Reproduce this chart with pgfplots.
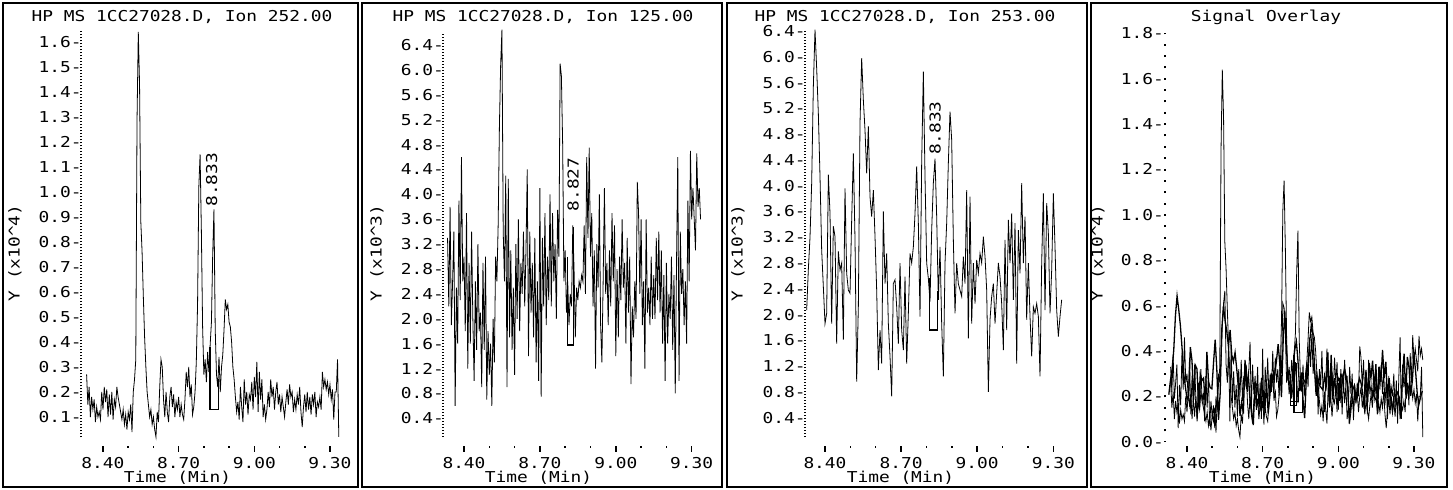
\documentclass[border=0pt]{standalone}
\usepackage{fontspec}
\setmainfont{DejaVu Sans Mono}[FakeStretch=1.19]
\usepackage{pgfplots}
\pgfplotsset{compat=1.18}
\usepackage{pgfplotstable}

% Ion 252 (x10^4), scan grid 8.335 + 0.005 i
\pgfplotstableread[row sep=\\]{
y\\
0.27\\0.15\\0.22\\0.10\\0.18\\0.13\\0.17\\0.08\\0.14\\0.10\\
0.12\\0.09\\0.20\\0.13\\0.22\\0.16\\0.21\\0.10\\0.19\\0.11\\
0.20\\0.09\\0.17\\0.14\\0.22\\0.18\\0.15\\0.12\\0.09\\0.13\\
0.07\\0.11\\0.05\\0.12\\0.09\\0.15\\0.04\\0.20\\0.25\\0.33\\
1.29\\1.64\\1.43\\0.88\\0.76\\0.58\\0.42\\0.30\\0.20\\0.15\\
0.10\\0.13\\0.07\\0.10\\0.05\\0.02\\0.12\\0.08\\0.22\\0.33\\
0.30\\0.17\\0.10\\0.20\\0.12\\0.08\\0.18\\0.22\\0.14\\0.19\\
0.10\\0.16\\0.13\\0.18\\0.10\\0.15\\0.11\\0.09\\0.17\\0.28\\
0.22\\0.30\\0.18\\0.23\\0.11\\0.14\\0.20\\0.32\\0.55\\1.02\\
1.15\\0.85\\0.46\\0.27\\0.33\\0.24\\0.36\\0.28\\0.39\\0.48\\
0.75\\0.93\\0.45\\0.27\\0.22\\0.34\\0.20\\0.30\\0.35\\0.45\\
0.57\\0.53\\0.55\\0.48\\0.46\\0.40\\0.30\\0.25\\0.18\\0.12\\
0.16\\0.09\\0.22\\0.14\\0.08\\0.25\\0.15\\0.20\\0.11\\0.19\\
0.17\\0.24\\0.13\\0.26\\0.18\\0.32\\0.12\\0.28\\0.17\\0.25\\
0.10\\0.15\\0.09\\0.13\\0.20\\0.14\\0.25\\0.18\\0.22\\0.13\\
0.20\\0.24\\0.15\\0.19\\0.12\\0.18\\0.14\\0.10\\0.16\\0.21\\
0.15\\0.23\\0.18\\0.20\\0.12\\0.17\\0.13\\0.19\\0.15\\0.22\\
0.12\\0.06\\0.14\\0.19\\0.12\\0.20\\0.13\\0.18\\0.11\\0.19\\
0.15\\0.20\\0.10\\0.16\\0.14\\0.18\\0.13\\0.28\\0.22\\0.25\\
0.21\\0.24\\0.19\\0.23\\0.17\\0.21\\0.09\\0.20\\0.20\\0.33\\
0.02\\
}\ionA

% Ion 125 (x10^3), scan grid 8.335 + 0.005 i
\pgfplotstableread[row sep=\\]{
y\\
3.3\\2.2\\3.8\\1.9\\2.6\\3.4\\0.6\\2.5\\1.6\\3.9\\
2.3\\4.6\\2.6\\3.0\\1.8\\3.7\\1.2\\2.9\\1.6\\3.4\\
2.0\\1.0\\2.6\\1.5\\3.2\\1.8\\2.1\\0.9\\2.9\\1.5\\
3.0\\0.7\\1.8\\1.1\\1.6\\0.6\\2.0\\1.3\\3.0\\2.6\\
3.5\\5.1\\6.1\\6.65\\3.4\\2.6\\4.3\\0.9\\4.25\\1.7\\
3.1\\1.5\\2.5\\1.1\\3.2\\2.0\\3.6\\1.8\\2.9\\2.4\\
3.4\\2.2\\3.1\\4.4\\1.4\\3.4\\2.1\\2.9\\1.7\\3.3\\
1.3\\2.6\\1.0\\4.1\\0.75\\3.3\\2.2\\3.7\\1.9\\3.0\\
2.3\\4.0\\2.2\\3.7\\2.6\\3.2\\2.0\\3.75\\3.0\\6.1\\
5.9\\4.8\\2.6\\3.1\\2.1\\2.6\\1.9\\2.4\\2.2\\3.5\\
2.8\\1.7\\2.5\\2.3\\2.6\\2.5\\2.7\\2.6\\3.5\\2.4\\
4.6\\3.3\\4.75\\3.0\\3.7\\2.2\\3.1\\1.2\\3.2\\2.5\\
4.0\\1.9\\1.3\\2.6\\4.1\\2.4\\2.9\\1.9\\3.1\\2.2\\
3.7\\2.6\\3.5\\1.4\\2.8\\1.7\\3.0\\2.3\\3.6\\2.5\\
2.9\\1.6\\3.3\\2.1\\3.0\\0.95\\2.2\\1.7\\2.6\\2.0\\
4.2\\3.7\\2.4\\3.6\\1.9\\2.6\\1.2\\3.6\\2.1\\2.5\\
1.9\\3.0\\2.0\\2.7\\2.0\\3.3\\2.3\\3.4\\2.1\\3.1\\
1.6\\2.7\\1.0\\2.9\\1.6\\2.4\\2.0\\3.0\\1.5\\2.7\\
0.8\\2.9\\4.6\\1.0\\3.4\\2.4\\2.8\\1.9\\2.6\\1.6\\
3.9\\2.6\\4.7\\3.6\\4.1\\3.6\\3.1\\4.66\\3.8\\4.1\\
3.6\\
}\ionB

% Ion 253 (x10^3), scan grid 8.3278 + 0.00657 k
\pgfplotstableread[row sep=\\]{
y\\
2.07\\2.70\\3.20\\4.04\\5.54\\6.42\\5.82\\5.12\\4.14\\3.00\\
2.43\\1.86\\2.02\\4.17\\3.57\\1.86\\3.37\\3.21\\1.55\\2.98\\
2.69\\2.80\\1.61\\3.96\\2.64\\2.38\\2.33\\3.47\\4.50\\3.16\\
0.96\\2.12\\4.97\\5.98\\5.33\\4.86\\4.19\\4.92\\3.83\\3.52\\
3.93\\3.21\\2.38\\1.14\\1.76\\1.24\\3.60\\2.48\\2.95\\1.86\\
1.35\\0.73\\2.48\\2.54\\2.12\\1.55\\2.80\\1.76\\1.45\\2.59\\
1.24\\2.02\\2.95\\2.80\\3.05\\3.57\\4.30\\3.42\\1.97\\4.37\\
5.77\\4.14\\2.80\\2.56\\2.20\\3.31\\4.04\\4.42\\3.52\\2.23\\
3.05\\1.86\\1.04\\2.80\\3.42\\4.35\\5.15\\4.71\\3.16\\2.02\\
2.80\\2.48\\2.38\\2.28\\2.90\\2.48\\3.93\\1.63\\3.83\\1.86\\
2.80\\2.17\\2.85\\2.64\\2.95\\2.80\\3.21\\2.90\\2.38\\0.80\\
1.92\\2.28\\2.48\\1.86\\2.33\\2.80\\2.59\\2.17\\1.45\\3.16\\
1.76\\3.47\\2.80\\3.57\\2.23\\3.42\\1.24\\3.31\\2.64\\4.04\\
2.80\\3.52\\1.92\\2.80\\1.97\\1.35\\2.12\\2.02\\2.17\\1.97\\
1.04\\2.80\\3.88\\2.07\\3.73\\3.26\\2.02\\2.69\\3.88\\3.05\\
2.07\\1.66\\1.97\\2.23\\
}\ionC

\pgfplotsset{
  gc/.style={
    scale only axis, width=135pt, anchor=south west,
    axis lines=left, axis line style={draw=none},
    enlargelimits=false, clip=false,
    tick align=outside,
    xtick={8.4,8.7,9.0,9.3},
    xticklabels={8.40,8.70,9.00,9.30},
    minor xtick={8.5,8.6,8.8,8.9,9.1,9.2},
    major tick length=3pt, minor tick length=1pt,
    xtick style={black, line width=0.75pt},
    ytick style={draw=none},
    yticklabel style={anchor=east, inner sep=0pt, xshift=3.5pt},
    xticklabel style={anchor=base, inner sep=0pt, yshift=-8.5pt},
    no markers,
    cycle list={{black, line width=0.65pt}},
  },
}
\tikzset{dotaxis/.style={black, line width=1pt, dash pattern=on 0.5pt off 1pt}}

\begin{document}
\fontsize{7.5}{9}\selectfont
\begin{tikzpicture}
\path[use as bounding box] (0,0) rectangle (726.5pt,245pt);
% panel frames
\draw[line width=0.7pt] (1.5pt,1.5pt) rectangle (179pt,243.5pt);
\draw[line width=0.7pt] (181pt,1.5pt) rectangle (361pt,243.5pt);
\draw[line width=0.7pt] (363.5pt,1.5pt) rectangle (543.5pt,243.5pt);
\draw[line width=0.7pt] (545.5pt,1.5pt) rectangle (723.5pt,243.5pt);

% titles
\node[anchor=base] at (91pt,234pt) {HP MS 1CC27028.D, Ion 252.00};
\node[anchor=base] at (271.5pt,234pt) {HP MS 1CC27028.D, Ion 125.00};
\node[anchor=base] at (452.5pt,234pt) {HP MS 1CC27028.D, Ion 253.00};
\node[anchor=base] at (633pt,234pt) {Signal Overlay};

% x labels
\node[anchor=base, inner sep=0pt] at (88.75pt,3.5pt) {Time (Min)};
\node[anchor=base, inner sep=0pt] at (269.25pt,3.5pt) {Time (Min)};
\node[anchor=base, inner sep=0pt] at (450.25pt,3.5pt) {Time (Min)};
\node[anchor=base, inner sep=0pt] at (631.25pt,3.5pt) {Time (Min)};

% y labels
\node[rotate=90] at (7.5pt,118.5pt) {Y (x10\textasciicircum 4)};
\node[rotate=90] at (188.5pt,118.5pt) {Y (x10\textasciicircum 3)};
\node[rotate=90] at (369pt,118.5pt) {Y (x10\textasciicircum 3)};
\node[rotate=90] at (549pt,118.5pt) {Y (x10\textasciicircum 4)};

% Panel 1: Ion 252
\begin{axis}[gc, at={(40.5pt,22pt)}, height=208pt,
  xmin=8.3128, xmax=9.3834, ymin=-0.016, ymax=1.648,
  ytick={0.1,0.2,0.3,0.4,0.5,0.6,0.7,0.8,0.9,1.0,1.1,1.2,1.3,1.4,1.5,1.6},
  yticklabels={0.1-,0.2-,0.3-,0.4-,0.5-,0.6-,0.7-,0.8-,0.9-,1.0-,1.1-,1.2-,1.3-,1.4-,1.5-,1.6-}]
\addplot table[x expr=8.335+0.005*\coordindex, y=y] {\ionA};
\addplot coordinates {(8.824,0.38) (8.824,0.13) (8.857,0.13) (8.857,0.25)};
\draw[dotaxis] (axis cs:8.3128,0.018) -- (axis cs:8.3128,1.645);
\node[rotate=90, anchor=west, inner sep=0pt] at (axis cs:8.831,0.94) {8.833};
\end{axis}

% Panel 2: Ion 125
\begin{axis}[gc, at={(221.65pt,22pt)}, height=209pt,
  xmin=8.3182, xmax=9.3854, ymin=-0.045, ymax=6.675,
  ytick={0.4,0.8,1.2,1.6,2.0,2.4,2.8,3.2,3.6,4.0,4.4,4.8,5.2,5.6,6.0,6.4},
  yticklabels={0.4-,0.8-,1.2-,1.6-,2.0-,2.4-,2.8-,3.2-,3.6-,4.0-,4.4-,4.8-,5.2-,5.6-,6.0-,6.4-}]
\addplot table[x expr=8.335+0.005*\coordindex, y=y] {\ionB};
\addplot coordinates {(8.809,3.0) (8.809,1.58) (8.832,1.58) (8.832,3.48)};
\draw[dotaxis] (axis cs:8.3182,0.1) -- (axis cs:8.3182,6.61);
\node[rotate=90, anchor=west, inner sep=0pt] at (axis cs:8.831,3.72) {8.827};
\end{axis}

% Panel 3: Ion 253
\begin{axis}[gc, at={(402.5pt,22pt)}, height=209pt,
  xmin=8.3212, xmax=9.3855, ymin=-0.0388, ymax=6.447,
  ytick={0.4,0.8,1.2,1.6,2.0,2.4,2.8,3.2,3.6,4.0,4.4,4.8,5.2,5.6,6.0,6.4},
  yticklabels={0.4-,0.8-,1.2-,1.6-,2.0-,2.4-,2.8-,3.2-,3.6-,4.0-,4.4-,4.8-,5.2-,5.6-,6.0-,6.4-}]
\addplot table[x expr=8.3278+0.00657*\coordindex, y=y] {\ionC};
\addplot coordinates {(8.811,2.57) (8.811,1.76) (8.843,1.76) (8.843,2.37)};
\draw[dotaxis] (axis cs:8.3212,0.1) -- (axis cs:8.3212,6.42);
\node[rotate=90, anchor=west, inner sep=0pt] at (axis cs:8.834,4.47) {8.833};
\end{axis}

% Panel 4: Signal overlay (ions 125 and 253 rescaled to x10^4)
\begin{axis}[gc, at={(582.35pt,22pt)}, height=208pt,
  xmin=8.3116, xmax=9.3822, ymin=-0.019, ymax=1.8145,
  ytick={0.0,0.2,0.4,0.6,0.8,1.0,1.2,1.4,1.6,1.8},
  yticklabels={0.0-,0.2-,0.4-,0.6-,0.8-,1.0-,1.2-,1.4-,1.6-,1.8-},
  yticklabel style={xshift=-0.75pt}]
\addplot+[y filter/.expression={y/10}] table[x expr=8.335+0.005*\coordindex, y=y] {\ionB};
\addplot+[y filter/.expression={y/10}] table[x expr=8.3278+0.00657*\coordindex, y=y] {\ionC};
\addplot table[x expr=8.335+0.005*\coordindex, y=y] {\ionA};
\addplot coordinates {(8.824,0.38) (8.824,0.13) (8.857,0.13) (8.857,0.25)};
\addplot coordinates {(8.809,0.300) (8.809,0.158) (8.832,0.158) (8.832,0.348)};
\addplot coordinates {(8.811,0.257) (8.811,0.176) (8.843,0.176) (8.843,0.237)};
\draw[black, line width=1pt, dash pattern=on 1pt off 4.67pt, dash phase=0.5pt] (axis cs:8.3116,0) -- (axis cs:8.3116,1.8);
\end{axis}
\end{tikzpicture}
\end{document}
